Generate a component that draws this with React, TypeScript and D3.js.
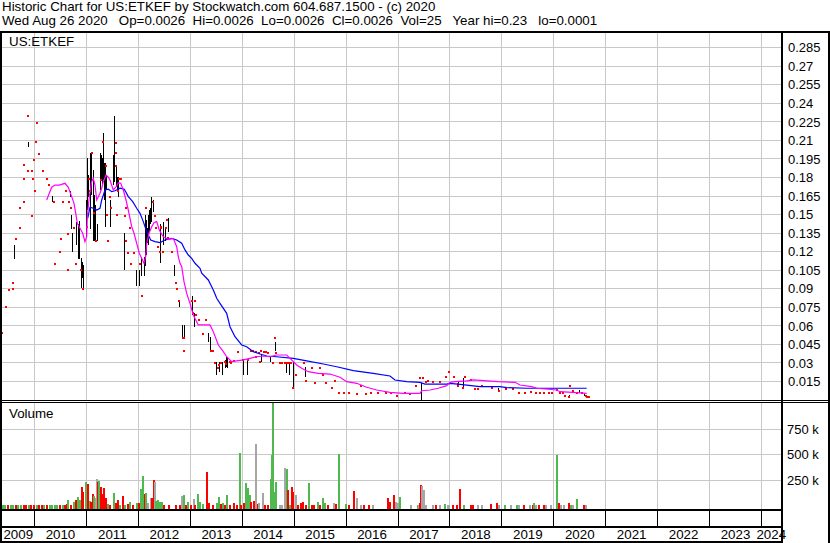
import React from 'react';
import * as d3 from 'd3';

// ---------- DATA ----------
const headerLine1 = 'Historic Chart for US:ETKEF by Stockwatch.com 604.687.1500 - (c) 2020';
const headerLine2 = 'Wed Aug 26 2020   Op=0.0026  Hi=0.0026  Lo=0.0026  Cl=0.0026  Vol=25   Year hi=0.23   lo=0.0001';
const symbolLabel = 'US:ETKEF';

const years = [2009, 2010, 2011, 2012, 2013, 2014, 2015, 2016, 2017, 2018, 2019, 2020, 2021, 2022, 2023, 2024];
const priceTicks = [0.015, 0.03, 0.045, 0.06, 0.075, 0.09, 0.105, 0.12, 0.135, 0.15, 0.165, 0.18, 0.195, 0.21, 0.225, 0.24, 0.255, 0.27, 0.285];
const priceTickLabels = ['0.015', '0.03', '0.045', '0.06', '0.075', '0.09', '0.105', '0.12', '0.135', '0.15', '0.165', '0.18', '0.195', '0.21', '0.225', '0.24', '0.255', '0.27', '0.285'];
const volTicks = [250, 500, 750];
const volTickLabels = ['250 k', '500 k', '750 k'];

// daily high-low range bars (decimal year)
const barDate = [2009.624, 2009.888, 2010.343, 2010.684, 2010.716, 2010.736, 2010.818, 2010.838, 2010.857, 2010.876, 2010.896, 2010.915, 2010.934,
  2011.011, 2011.030, 2011.049, 2011.069, 2011.088, 2011.107, 2011.127, 2011.146, 2011.165, 2011.184, 2011.204,
  2011.262, 2011.281, 2011.300, 2011.320, 2011.329, 2011.339, 2011.358, 2011.377, 2011.454,
  2011.512, 2011.531, 2011.550, 2011.570, 2011.589, 2011.614, 2011.737, 2011.968, 2012.018, 2012.064, 2012.109,
  2012.141, 2012.157, 2012.176, 2012.195, 2012.215, 2012.234, 2012.253, 2012.295, 2012.417, 2012.436, 2012.475, 2012.523, 2012.571,
  2012.690, 2012.788, 2012.846, 2012.879, 2013.046, 2013.077, 2013.360, 2013.393, 2013.501, 2013.553, 2013.620, 2013.669, 2013.701, 2013.726,
  2014.021, 2014.098, 2014.375, 2014.554, 2014.650, 2014.856, 2014.920, 2014.984, 2015.222,
  2017.456, 2018.161, 2018.258, 2018.931, 2019.432, 2020.299, 2020.486, 2020.601];
const barHigh = [0.125, 0.209, 0.165, 0.169, 0.150, 0.135, 0.144, 0.142, 0.145, 0.138, 0.115, 0.112, 0.109,
  0.162, 0.196, 0.182, 0.200, 0.194, 0.200, 0.186, 0.166, 0.162, 0.158, 0.142,
  0.200, 0.198, 0.196, 0.194, 0.216, 0.192, 0.192, 0.182, 0.162,
  0.198, 0.230, 0.200, 0.190, 0.180, 0.180, 0.135, 0.105, 0.105, 0.116, 0.116,
  0.150, 0.146, 0.139, 0.150, 0.154, 0.155, 0.164, 0.162, 0.135, 0.142, 0.144, 0.138, 0.147,
  0.109, 0.080, 0.061, 0.061, 0.084, 0.070, 0.054, 0.051, 0.031, 0.031, 0.031, 0.032, 0.035, 0.034,
  0.032, 0.032, 0.036, 0.035, 0.047, 0.030, 0.031, 0.031, 0.027,
  0.0135, 0.0156, 0.0176, 0.0095, 0.0067, 0.0040, 0.0080, 0.0046];
const barLow = [0.114, 0.205, 0.160, 0.164, 0.138, 0.120, 0.125, 0.114, 0.115, 0.114, 0.091, 0.099, 0.089,
  0.132, 0.154, 0.164, 0.162, 0.138, 0.166, 0.129, 0.129, 0.139, 0.129, 0.129,
  0.170, 0.178, 0.174, 0.178, 0.181, 0.162, 0.140, 0.170, 0.140,
  0.174, 0.176, 0.178, 0.172, 0.170, 0.164, 0.105, 0.092, 0.092, 0.100, 0.100,
  0.108, 0.117, 0.127, 0.125, 0.136, 0.142, 0.144, 0.152, 0.111, 0.111, 0.125, 0.129, 0.136,
  0.100, 0.075, 0.050, 0.050, 0.069, 0.059, 0.047, 0.040, 0.020, 0.023, 0.020, 0.026, 0.027, 0.026,
  0.020, 0.020, 0.031, 0.031, 0.040, 0.022, 0.020, 0.0095, 0.019,
  0.0001, 0.0116, 0.0095, 0.0067, 0.0054, 0.0019, 0.0054, 0.0032];

// close markers (decimal year, price)
const dotDate = [2009.393, 2009.470, 2009.528, 2009.586, 2009.605, 2009.657, 2009.721, 2009.740, 2009.798, 2009.798, 2009.804, 2009.875, 2009.888,
  2009.958, 2009.977, 2009.958, 2010.004, 2010.015, 2010.029, 2010.062, 2010.087, 2010.169, 2010.254, 2010.298, 2010.381, 2010.395,
  2010.505, 2010.524, 2010.568, 2010.607, 2010.651, 2010.664, 2010.670, 2010.703, 2010.761, 2010.813, 2010.909, 2010.953,
  2011.024, 2011.055, 2011.082, 2011.121, 2011.146, 2011.198, 2011.281, 2011.338, 2011.390, 2011.409, 2011.421, 2011.467, 2011.487,
  2011.570, 2011.570, 2011.583, 2011.595, 2011.614, 2011.633, 2011.679, 2011.743, 2011.775, 2011.775, 2011.806, 2011.852, 2011.872, 2011.922,
  2012.032, 2012.076, 2012.161, 2012.288, 2012.326, 2012.353, 2012.384, 2012.417, 2012.450, 2012.455, 2012.480, 2012.546, 2012.565, 2012.577,
  2012.661, 2012.725, 2012.758, 2012.788, 2012.865, 2012.898, 2012.898, 2013.046, 2013.058, 2013.110, 2013.123, 2013.187, 2013.251, 2013.316,
  2013.412, 2013.443, 2013.476, 2013.540, 2013.570, 2013.605, 2013.669, 2013.700, 2013.765, 2013.800, 2013.842, 2013.925, 2014.021, 2014.117,
  2014.183, 2014.220, 2014.279, 2014.279, 2014.330, 2014.343, 2014.375, 2014.420, 2014.471, 2014.510, 2014.599, 2014.632, 2014.664, 2014.728,
  2014.770, 2014.824, 2014.880, 2014.910, 2014.953, 2014.997, 2015.049, 2015.190, 2015.242, 2015.350,
  2015.415, 2015.517, 2015.562, 2015.627, 2015.742, 2015.800, 2015.883, 2015.979, 2016.075, 2016.216, 2016.301, 2016.384, 2016.493, 2016.621,
  2016.782, 2016.879, 2016.996, 2017.135, 2017.240, 2017.361, 2017.432, 2017.487, 2017.540, 2017.584, 2017.680, 2017.822, 2017.937, 2018.001,
  2018.097, 2018.161, 2018.174, 2018.258, 2018.297, 2018.419, 2018.483, 2018.546, 2018.631, 2018.824, 2018.964, 2019.093, 2019.220, 2019.336,
  2019.446, 2019.574, 2019.671, 2019.735, 2019.817, 2019.927, 2019.971, 2020.075, 2020.120, 2020.183, 2020.216, 2020.312, 2020.326, 2020.376,
  2020.461, 2020.544, 2020.622, 2020.646, 2020.680];
const dotPrice = [0.054, 0.075, 0.089, 0.090, 0.095, 0.130, 0.139, 0.155, 0.160, 0.179, 0.190, 0.185, 0.230,
  0.185, 0.179, 0.149, 0.194, 0.169, 0.209, 0.224, 0.199, 0.185, 0.179, 0.174, 0.160, 0.110,
  0.120, 0.130, 0.160, 0.169, 0.134, 0.105, 0.160, 0.155, 0.139, 0.110, 0.105, 0.090,
  0.140, 0.179, 0.169, 0.200, 0.151, 0.129, 0.178, 0.209, 0.189, 0.150, 0.129, 0.164, 0.155,
  0.208, 0.200, 0.189, 0.150, 0.169, 0.179, 0.179, 0.149, 0.155, 0.129, 0.119, 0.139, 0.110, 0.119,
  0.110, 0.084, 0.155, 0.160, 0.149, 0.139, 0.124, 0.120, 0.139, 0.140, 0.120, 0.139, 0.146, 0.131,
  0.120, 0.095, 0.090, 0.080, 0.050, 0.050, 0.040, 0.080, 0.070, 0.080, 0.069, 0.065, 0.053, 0.065,
  0.040, 0.040, 0.030, 0.026, 0.028, 0.030, 0.031, 0.029, 0.031, 0.030, 0.0315, 0.039, 0.032, 0.032,
  0.040, 0.040, 0.039, 0.035, 0.038, 0.031, 0.040, 0.039, 0.039, 0.038, 0.030, 0.050, 0.038, 0.030,
  0.030, 0.030, 0.030, 0.030, 0.030, 0.010, 0.020, 0.030, 0.015, 0.026,
  0.014, 0.026, 0.020, 0.014, 0.010, 0.015, 0.006, 0.0055, 0.006, 0.005, 0.011, 0.005, 0.0055, 0.0055,
  0.0055, 0.006, 0.0035, 0.0055, 0.005, 0.0116, 0.018, 0.018, 0.0143, 0.015, 0.0143, 0.0143, 0.019, 0.0227,
  0.019, 0.0116, 0.013, 0.0095, 0.019, 0.016, 0.009, 0.009, 0.011, 0.010, 0.0075, 0.009, 0.009, 0.006,
  0.006, 0.0067, 0.006, 0.006, 0.006, 0.006, 0.006, 0.008, 0.006, 0.006, 0.0032, 0.0022, 0.0116, 0.0075,
  0.006, 0.006, 0.0032, 0.0027, 0.0026];

// short moving average (magenta)
const maShortDate = [2010.235, 2010.266, 2010.331, 2010.395, 2010.478, 2010.587, 2010.651, 2010.716, 2010.761, 2010.799, 2010.824, 2010.876,
  2010.928, 2010.972, 2011.005, 2011.017, 2011.055, 2011.101, 2011.132, 2011.165, 2011.198, 2011.229, 2011.261, 2011.294, 2011.325,
  2011.377, 2011.421, 2011.454, 2011.517, 2011.583, 2011.614, 2011.660, 2011.710, 2011.762, 2011.806, 2011.872, 2011.916, 2011.968,
  2012.018, 2012.064, 2012.109, 2012.141, 2012.161, 2012.205, 2012.257, 2012.301, 2012.353, 2012.403, 2012.480, 2012.577, 2012.673,
  2012.738, 2012.769, 2012.802, 2012.835, 2012.879, 2012.931, 2012.994, 2013.058, 2013.154, 2013.251, 2013.380, 2013.443, 2013.540,
  2013.636, 2013.701, 2013.797, 2013.894, 2014.021, 2014.150, 2014.279, 2014.406, 2014.535, 2014.664, 2014.857, 2014.920, 2015.049,
  2015.145, 2015.273, 2015.465, 2015.690, 2015.883, 2016.012, 2016.205, 2016.397, 2016.590, 2016.846, 2017.102, 2017.424, 2017.456,
  2017.616, 2017.776, 2017.938, 2018.001, 2018.098, 2018.323, 2018.450, 2018.931, 2019.253, 2019.349, 2019.574, 2019.671, 2020.056,
  2020.120, 2020.441, 2020.633];
const maShortVal = [0.1618, 0.1653, 0.1721, 0.1739, 0.1739, 0.1753, 0.1721, 0.1645, 0.1591, 0.1497, 0.1430, 0.1389,
  0.1349, 0.1281, 0.1321, 0.1483, 0.1645, 0.1766, 0.1794, 0.1739, 0.1618, 0.1645, 0.1672, 0.1713, 0.1766,
  0.1820, 0.1802, 0.1780, 0.1699, 0.1731, 0.1758, 0.1753, 0.1699, 0.1618, 0.1537, 0.1402, 0.1349, 0.1268,
  0.1187, 0.1146, 0.1106, 0.1159, 0.1268, 0.1349, 0.1402, 0.1434, 0.1443, 0.1375, 0.1321, 0.1300, 0.1308,
  0.1240, 0.1159, 0.1106, 0.1078, 0.0957, 0.0863, 0.0782, 0.0688, 0.0607, 0.0607, 0.0607, 0.0553, 0.0445,
  0.0391, 0.0350, 0.0310, 0.0316, 0.0324, 0.0337, 0.0350, 0.0356, 0.0350, 0.0364, 0.0364, 0.0337, 0.0283,
  0.0256, 0.0229, 0.0216, 0.0210, 0.0184, 0.0148, 0.0135, 0.0103, 0.0081, 0.0062, 0.0054, 0.0054, 0.0075,
  0.0081, 0.0095, 0.0116, 0.0143, 0.0148, 0.0154, 0.0162, 0.0148, 0.0143, 0.0121, 0.0108, 0.0095, 0.0081,
  0.0067, 0.0059, 0.0054];

// long moving average (blue)
const maLongDate = [2011.024, 2011.069, 2011.132, 2011.198, 2011.261, 2011.294, 2011.358, 2011.421, 2011.487, 2011.550, 2011.646, 2011.729,
  2011.806, 2011.891, 2011.968, 2012.032, 2012.095, 2012.161, 2012.238, 2012.320, 2012.417, 2012.513, 2012.642, 2012.738, 2012.835,
  2012.898, 2012.962, 2013.027, 2013.091, 2013.187, 2013.220, 2013.347, 2013.443, 2013.509, 2013.572, 2013.701, 2013.765, 2013.861,
  2013.990, 2014.086, 2014.213, 2014.343, 2014.471, 2014.664, 2014.984, 2015.242, 2015.562, 2015.820, 2016.139, 2016.524, 2016.846,
  2016.942, 2017.167, 2017.424, 2017.520, 2017.938, 2018.001, 2018.194, 2018.579, 2018.964, 2019.093, 2019.478, 2020.633];
const maLongVal = [0.1470, 0.1559, 0.1551, 0.1537, 0.1551, 0.1618, 0.1699, 0.1705, 0.1685, 0.1693, 0.1713, 0.1705,
  0.1645, 0.1604, 0.1551, 0.1510, 0.1443, 0.1362, 0.1294, 0.1281, 0.1273, 0.1294, 0.1308, 0.1294, 0.1268,
  0.1214, 0.1173, 0.1146, 0.1106, 0.1065, 0.1025, 0.0971, 0.0890, 0.0823, 0.0782, 0.0701, 0.0593, 0.0512,
  0.0445, 0.0431, 0.0391, 0.0372, 0.0356, 0.0350, 0.0337, 0.0316, 0.0291, 0.0269, 0.0237, 0.0216, 0.0194,
  0.0162, 0.0148, 0.0143, 0.0129, 0.0129, 0.0135, 0.0127, 0.0108, 0.0108, 0.0100, 0.0095, 0.0095];

// volume bars: decimal year, volume in thousands, direction (u=up, d=down, n=unchanged)
const volDate = [2009.40, 2009.45, 2009.50, 2009.55, 2009.60, 2009.65, 2009.70, 2009.75, 2009.80, 2009.85, 2009.90, 2009.95, 2010.00,
  2010.05, 2010.10, 2010.15, 2010.20, 2010.25, 2010.30, 2010.35, 2010.40, 2010.45, 2010.50, 2010.55, 2010.60, 2010.63,
  2010.664, 2010.716, 2010.761, 2010.806, 2010.844, 2010.889, 2010.921, 2010.953, 2010.998, 2011.037, 2011.069, 2011.107, 2011.133,
  2011.165, 2011.197, 2011.216, 2011.242, 2011.261, 2011.287, 2011.319, 2011.351, 2011.377, 2011.422, 2011.454, 2011.537, 2011.582,
  2011.614, 2011.665, 2011.710, 2011.749, 2011.807, 2011.858, 2011.903, 2011.980, 2012.018, 2012.057, 2012.095, 2012.134, 2012.166,
  2012.204, 2012.256, 2012.275, 2012.307, 2012.333, 2012.359, 2012.391, 2012.429, 2012.468, 2012.513, 2012.609, 2012.738, 2012.802,
  2012.853, 2012.898, 2012.930, 2012.969, 2013.027, 2013.085, 2013.110, 2013.161, 2013.206, 2013.251, 2013.335, 2013.367, 2013.444,
  2013.521, 2013.572, 2013.604, 2013.649, 2013.681, 2013.726, 2013.765, 2013.842, 2013.906, 2013.958, 2013.989, 2014.041, 2014.086,
  2014.118, 2014.150, 2014.182, 2014.227, 2014.278, 2014.311, 2014.342, 2014.407, 2014.439, 2014.503, 2014.567, 2014.586, 2014.606,
  2014.631, 2014.663, 2014.728, 2014.773, 2014.837, 2014.869, 2014.895, 2014.921, 2014.959, 2014.985, 2015.048, 2015.093, 2015.145,
  2015.189, 2015.241, 2015.305, 2015.350, 2015.401, 2015.478, 2015.510, 2015.574, 2015.613, 2015.658, 2015.774, 2015.819, 2015.864,
  2015.883, 2016.011, 2016.063, 2016.159, 2016.223, 2016.300, 2016.364, 2016.448, 2016.525, 2016.813, 2016.858, 2016.923, 2016.974,
  2017.006, 2017.051, 2017.263, 2017.391, 2017.411, 2017.437, 2017.456, 2017.475, 2017.501, 2017.552, 2017.680, 2017.745, 2017.809,
  2017.918, 2017.969, 2018.001, 2018.065, 2018.149, 2018.207, 2018.277, 2018.419, 2018.463, 2018.546, 2018.631, 2018.804, 2018.912,
  2018.951, 2019.074, 2019.189, 2019.297, 2019.349, 2019.445, 2019.542, 2019.606, 2019.638, 2019.671, 2019.734, 2019.817, 2019.863,
  2019.960, 2020.075, 2020.106, 2020.152, 2020.197, 2020.293, 2020.345, 2020.389, 2020.460, 2020.582, 2020.633];
const volK = [2, 2, 1, 2, 1, 2, 2, 1, 2, 2, 1, 2, 2,
  1, 2, 2, 1, 1, 2, 2, 2, 2, 2, 5, 5, 10,
  54, 5, 38, 54, 87, 54, 185, 136, 227, 207, 45, 38, 110,
  93, 70, 260, 227, 240, 185, 110, 168, 70, 11, 5, 119, 28,
  54, 5, 97, 5, 18, 31, 5, 21, 25, 158, 289, 110, 119,
  21, 70, 77, 247, 227, 45, 51, 31, 31, 2, 2, 2, 5,
  97, 103, 5, 38, 5, 64, 5, 110, 38, 18, 325, 25, 2,
  21, 87, 18, 21, 5, 103, 2, 21, 5, 511, 5, 21, 220,
  168, 103, 31, 45, 600, 11, 21, 119, 2, 2, 260, 495, 1100,
  136, 227, 2, 5, 370, 357, 152, 5, 181, 129, 103, 2, 21,
  31, 2, 220, 5, 5, 38, 5, 77, 28, 2, 21, 15, 207,
  501, 15, 2, 142, 77, 2, 2, 2, 2, 70, 31, 103, 31,
  21, 87, 2, 1, 2, 21, 201, 194, 152, 1, 1, 1, 1,
  15, 2, 1, 1, 1, 162, 2, 1, 1, 1, 5, 15, 25,
  2, 5, 1, 2, 1, 1, 1, 5, 25, 1, 1, 1, 1,
  2, 495, 21, 2, 2, 28, 2, 1, 64, 1, 1];
const volDir = ['u', 'u', 'd', 'u', 'u', 'd', 'u', 'u', 'd', 'd', 'u', 'd', 'd',
  'u', 'd', 'd', 'u', 'd', 'u', 'u', 'u', 'u', 'd', 'u', 'd', 'd',
  'u', 'd', 'u', 'd', 'u', 'u', 'd', 'd', 'u', 'd', 'u', 'd', 'd',
  'u', 'n', 'n', 'd', 'u', 'd', 'd', 'd', 'd', 'u', 'd', 'u', 'd',
  'd', 'u', 'd', 'u', 'd', 'u', 'd', 'u', 'd', 'u', 'u', 'd', 'u',
  'n', 'n', 'd', 'd', 'n', 'u', 'u', 'u', 'u', 'd', 'd', 'd', 'd',
  'n', 'u', 'd', 'u', 'd', 'n', 'd', 'u', 'u', 'u', 'd', 'd', 'd',
  'u', 'u', 'd', 'u', 'd', 'u', 'd', 'd', 'd', 'u', 'd', 'd', 'u',
  'u', 'u', 'd', 'd', 'n', 'd', 'n', 'n', 'd', 'd', 'u', 'u', 'u',
  'u', 'u', 'n', 'n', 'n', 'u', 'd', 'u', 'd', 'd', 'n', 'd', 'd',
  'd', 'd', 'u', 'd', 'd', 'u', 'd', 'u', 'u', 'd', 'n', 'd', 'd',
  'u', 'u', 'd', 'd', 'n', 'n', 'd', 'd', 'n', 'd', 'd', 'd', 'n',
  'n', 'u', 'n', 'u', 'n', 'd', 'd', 'n', 'n', 'n', 'n', 'd', 'n',
  'u', 'n', 'n', 'd', 'd', 'd', 'u', 'd', 'd', 'n', 'n', 'd', 'd',
  'n', 'u', 'n', 'u', 'n', 'd', 'n', 'd', 'u', 'n', 'd', 'd', 'n',
  'n', 'u', 'd', 'n', 'n', 'd', 'u', 'n', 'u', 'd', 'n'];

// ---------- CHART ----------
const FONT = '"Liberation Sans", Arial, Helvetica, sans-serif';
const GRID = '#c8c8c8';
const volColor: Record<string, string> = { u: '#4fb84f', d: '#ff0000', n: '#a6a6a6' };

export default function App() {
  const left = 2;
  const axisX = 781;
  const xs = d3.scaleLinear().domain([2010, 2024]).range([34.5, 761.5]);
  const ys = d3.scaleLinear().domain([0, 0.285]).range([400, 47.7]);
  const yv = d3.scaleLinear().domain([0, 750]).range([505.5, 429]);
  const colX = (d: number) => Math.floor(xs(d)) + 0.5;
  const rowY = (v: number) => Math.floor(v) + 0.5;

  const gridYears = years.filter((y) => xs(y) > left + 1 && xs(y) < axisX);

  const line = d3.line<[number, number]>().x((d) => xs(d[0])).y((d) => ys(d[1]));
  const maShort = line(maShortDate.map((d, i) => [d, maShortVal[i]] as [number, number]));
  const maLong = line(maLongDate.map((d, i) => [d, maLongVal[i]] as [number, number]));

  const bars = barDate.map((d, i) => ({ d, hi: barHigh[i], lo: barLow[i] }));
  const dots = dotDate.map((d, i) => ({ d, p: dotPrice[i] }));
  const vols = volDate.map((d, i) => ({ d, v: volK[i], dir: volDir[i] }));

  const volBase = 509;

  return (
    <svg width={830} height={543} style={{ position: 'absolute', left: 0, top: 0, display: 'block', background: '#fff' }}
      fontFamily={FONT}>
      <defs>
        <clipPath id="pclip"><rect x={left} y={33} width={axisX - left} height={367} /></clipPath>
        <clipPath id="vclip"><rect x={left} y={403} width={axisX - left} height={volBase - 403} /></clipPath>
      </defs>
      <rect x={0} y={0} width={830} height={543} fill="#fff" />

      {/* header */}
      <text x={2} y={11} fontSize={13.33} fill="#000" style={{ whiteSpace: 'pre' }}>{headerLine1}</text>
      <text x={2} y={24.5} fontSize={13.33} fill="#000" style={{ whiteSpace: 'pre' }}>{headerLine2}</text>

      {/* price grid */}
      <g shapeRendering="crispEdges" stroke={GRID} strokeWidth={1}>
        {priceTicks.map((t) => (
          <line key={'pg' + t} x1={left} x2={axisX} y1={rowY(ys(t))} y2={rowY(ys(t))} />
        ))}
        {gridYears.map((y) => (
          <line key={'pv' + y} x1={colX(y)} x2={colX(y)} y1={33} y2={400} />
        ))}
        {volTicks.map((t) => (
          <line key={'vg' + t} x1={left} x2={axisX} y1={rowY(yv(t))} y2={rowY(yv(t))} />
        ))}
        {gridYears.map((y) => (
          <line key={'vv' + y} x1={colX(y)} x2={colX(y)} y1={403} y2={volBase} />
        ))}
      </g>

      {/* price marks */}
      <g clipPath="url(#pclip)">
        <g stroke="#000" strokeWidth={1} shapeRendering="crispEdges">
          {bars.map((b, i) => (
            <line key={'b' + i} x1={colX(b.d)} x2={colX(b.d)} y1={ys(b.hi)} y2={ys(b.lo)} />
          ))}
        </g>
        <g fill="#ff0000" shapeRendering="crispEdges">
          {dots.map((p, i) => (
            <rect key={'d' + i} x={Math.floor(xs(p.d)) - 1} y={Math.round(ys(p.p)) - 1} width={2} height={2} />
          ))}
        </g>
        <path d={maLong || ''} fill="none" stroke="#0000ff" strokeWidth={1.2} />
        <path d={maShort || ''} fill="none" stroke="#ff00ff" strokeWidth={1.2} />
      </g>

      {/* volume marks */}
      <g clipPath="url(#vclip)" shapeRendering="crispEdges">
        {vols.map((v, i) => {
          const top = Math.min(yv(v.v), volBase - 1);
          return (
            <rect key={'v' + i} x={Math.floor(xs(v.d)) - 1} y={top} width={2} height={volBase - top}
              fill={volColor[v.dir]} />
          );
        })}
      </g>

      {/* labels inside panels */}
      <text x={9} y={46} fontSize={13.33} fill="#000">{symbolLabel}</text>
      <text x={9} y={418} fontSize={13.33} fill="#000">Volume</text>

      {/* right axis labels */}
      {priceTicks.map((t, i) => (
        <text key={'pl' + t} x={788} y={ys(t) + 4.7} fontSize={13} fill="#000">{priceTickLabels[i]}</text>
      ))}
      {volTicks.map((t, i) => (
        <text key={'vl' + t} x={787} y={yv(t) + 4.7} fontSize={13} fill="#000">{volTickLabels[i]}</text>
      ))}

      {/* frame */}
      <g fill="#000" shapeRendering="crispEdges">
        <rect x={0} y={31} width={830} height={2} />
        <rect x={0} y={31} width={2} height={512} />
        <rect x={axisX} y={31} width={2} height={512} />
        <rect x={828} y={31} width={2} height={512} />
        <rect x={0} y={400} width={830} height={1} />
        <rect x={0} y={402} width={830} height={1} />
        <rect x={0} y={509} width={axisX} height={2} />
        <rect x={0} y={526} width={axisX} height={2} />
        <rect x={0} y={541} width={axisX} height={2} />
      </g>
      <g stroke="#000" strokeWidth={1} shapeRendering="crispEdges">
        {gridYears.map((y) => (
          <line key={'ds' + y} x1={colX(y)} x2={colX(y)} y1={511} y2={526} />
        ))}
      </g>

      {/* year labels */}
      {years.map((y) => {
        const a = Math.max(xs(y), left);
        const b = Math.min(xs(y + 1), axisX);
        return (
          <text key={'yl' + y} x={(a + b) / 2} y={539} fontSize={13.33} textAnchor="middle" fill="#000">{y}</text>
        );
      })}
    </svg>
  );
}
